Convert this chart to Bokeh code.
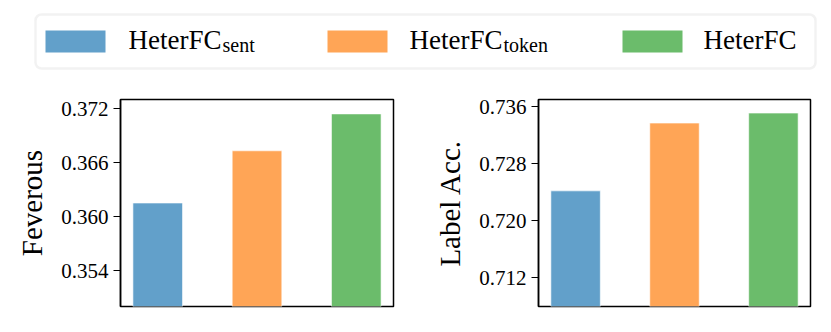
from bokeh.plotting import figure
from bokeh.models import Range1d, FixedTicker, PrintfTickFormatter, BoxAnnotation, ColumnDataSource
from bokeh.layouts import column, row
from bokeh.embed import file_html
from bokeh.resources import INLINE
from bokeh.core.properties import value

FONT = "Liberation Serif"

# ---- data ----
method_main = ["HeterFC", "HeterFC", "HeterFC"]
method_sub = ["sent", "token", ""]
x_pos = [0, 1, 2]
colors = ["#62a0ca", "#ffa556", "#6bbc6b"]
feverous = [0.3615, 0.3673, 0.3714]
label_acc = [0.7242, 0.7337, 0.7351]
fev_ticks = [0.354, 0.360, 0.366, 0.372]
acc_ticks = [0.712, 0.720, 0.728, 0.736]
fev_range = (0.3500, 0.3730)
acc_range = (0.7080, 0.7370)


def make_plot(vals, ylabel, yr, ticks, width, bl, br):
    p = figure(width=width, height=230, x_range=Range1d(-0.375, 2.375),
               y_range=Range1d(*yr), output_backend="svg", toolbar_location=None,
               min_border_left=bl, min_border_right=br, min_border_top=13,
               min_border_bottom=10)
    src = ColumnDataSource(dict(x=x_pos, top=vals, color=colors))
    p.vbar(x="x", top="top", bottom=yr[0], width=0.5, fill_color="color",
           line_color="white", line_width=0.6, source=src)
    p.xaxis.visible = False
    p.xgrid.visible = False
    p.ygrid.visible = False
    p.outline_line_color = "black"
    p.outline_line_width = 1.5
    p.outline_line_alpha = 1.0
    ax = p.yaxis[0]
    ax.ticker = FixedTicker(ticks=ticks)
    ax.formatter = PrintfTickFormatter(format="%.3f")
    ax.major_label_text_font = FONT
    ax.major_label_text_font_size = "21px"
    ax.major_label_text_color = "black"
    ax.axis_line_color = "black"
    ax.axis_line_width = 1.5
    ax.major_tick_line_color = "black"
    ax.major_tick_line_width = 1.2
    ax.major_tick_out = 7
    ax.major_tick_in = 0
    ax.minor_tick_line_color = None
    ax.axis_label = ylabel
    ax.axis_label_text_font = FONT
    ax.axis_label_text_font_size = "29px"
    ax.axis_label_text_font_style = "normal"
    ax.axis_label_text_color = "black"
    ax.axis_label_standoff = 10
    ax.major_label_standoff = 5
    p.border_fill_color = "white"
    return p


p1 = make_plot(feverous, "Feverous", fev_range, fev_ticks, 413, 120, 20)
p2 = make_plot(label_acc, "Label Acc.", acc_range, acc_ticks, 407, 125, 10)

# ---- legend figure ----
leg = figure(width=831, height=86, x_range=Range1d(0, 831), y_range=Range1d(0, 86),
             output_backend="svg", toolbar_location=None, x_axis_type=None,
             y_axis_type=None, min_border=0)
leg.outline_line_color = None
leg.xgrid.visible = False
leg.ygrid.visible = False
leg.add_layout(BoxAnnotation(left=35, right=815, top=72, bottom=18, fill_color="white",
                             fill_alpha=1.0, line_color="#d4d4d4", line_width=2.5,
                             border_radius=6, level="underlay"))
sw_left = [45, 327, 622]
leg.quad(left=sw_left, right=[l + 60 for l in sw_left], top=56, bottom=34,
         fill_color=colors, line_color=None)
txt_x = [128, 409, 703]
leg.text(x=txt_x, y=47, text=method_main, text_font=value(FONT),
         text_font_size="27px", text_color="black", text_baseline="alphabetic",
         text_align="left")
leg.text(x=[t + 94 for t in txt_x], y=42, text=method_sub, text_font=value(FONT),
         text_font_size="20px", text_color="black", text_baseline="alphabetic",
         text_align="left")

layout = column(leg, row(p1, p2))
open("out.html", "w").write(file_html(layout, INLINE))
